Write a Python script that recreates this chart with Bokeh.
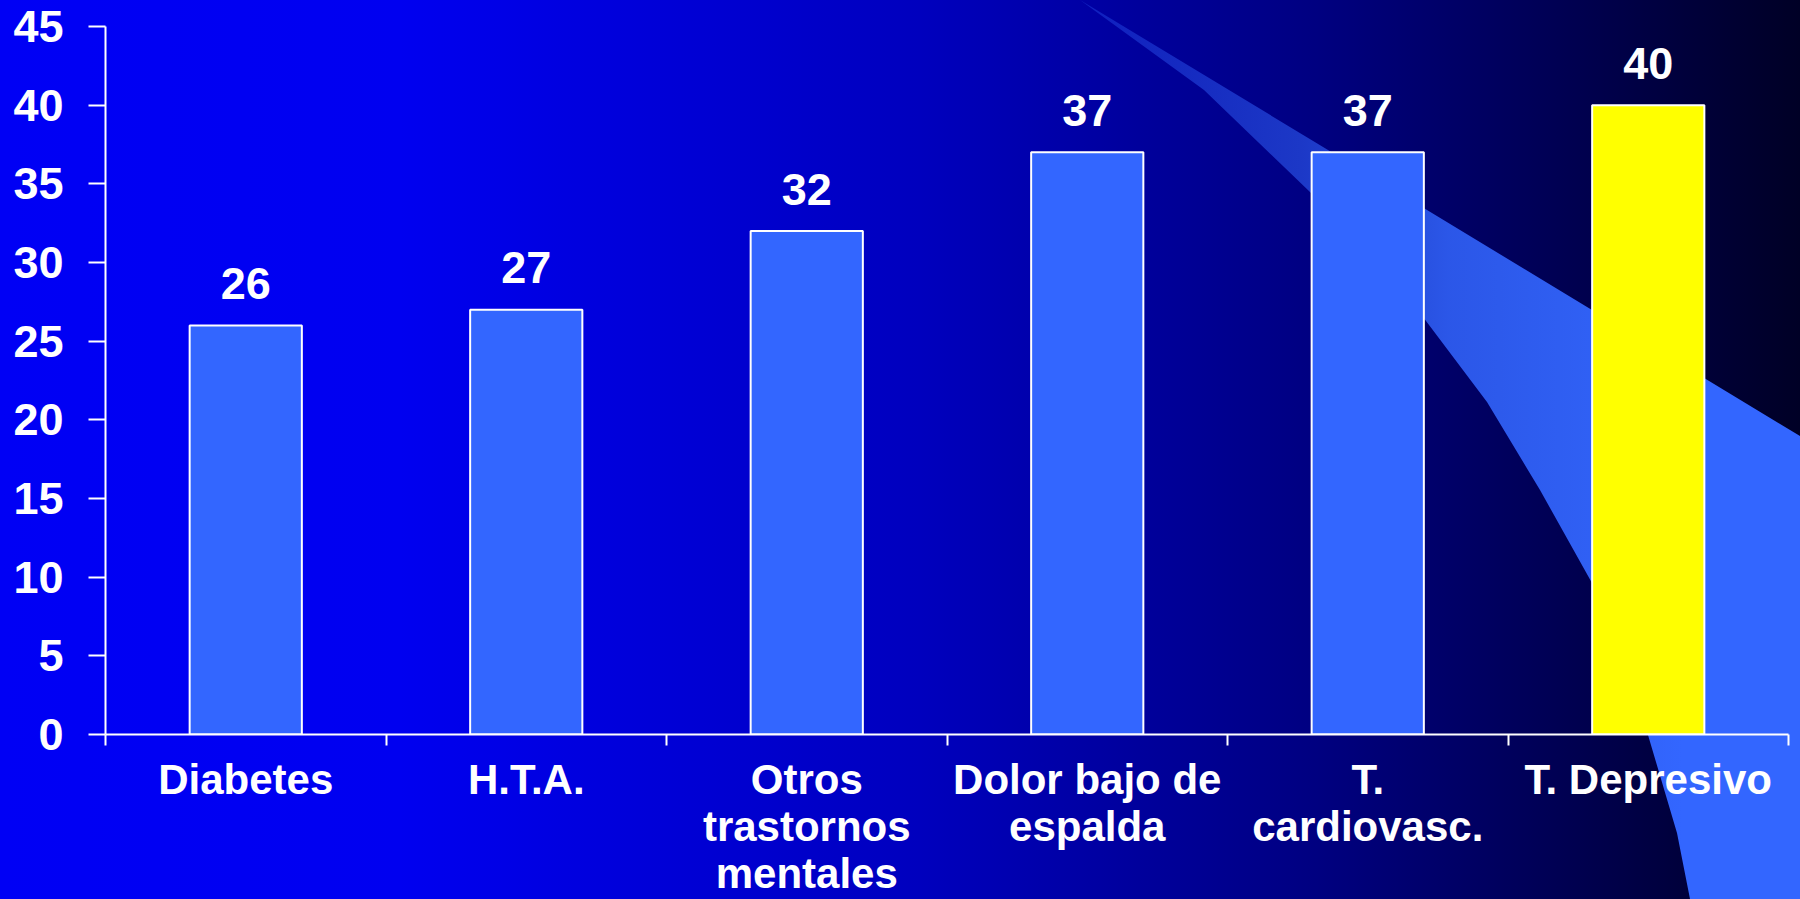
import urllib.parse
from bokeh.plotting import figure
from bokeh.models import Range1d, FixedTicker, ColumnDataSource
from bokeh.core.properties import value
from bokeh.embed import file_html
from bokeh.resources import INLINE

# ---- data ----
categories = ["Diabetes", "H.T.A.", "Otros\ntrastornos\nmentales",
              "Dolor bajo de\nespalda", "T.\ncardiovasc.", "T. Depresivo"]
values = [26, 27, 32, 37, 37, 40]
bar_colors = ["#3366FF", "#3366FF", "#3366FF", "#3366FF", "#3366FF", "#FFFF00"]
y_ticks = [0, 5, 10, 15, 20, 25, 30, 35, 40, 45]

centers = [i + 0.5 for i in range(len(categories))]
bounds = list(range(len(categories) + 1))

FONT = "Liberation Sans"

# ---- decorative background (slide template) ----
svg = (
    '<svg xmlns="http://www.w3.org/2000/svg" width="1800" height="899" viewBox="0 0 1800 899">'
    '<defs><linearGradient id="g" gradientUnits="userSpaceOnUse" x1="1080" y1="0" x2="1750" y2="0">'
    '<stop offset="0" stop-color="#3366FF" stop-opacity="0.3"/>'
    '<stop offset="0.33" stop-color="#3366FF" stop-opacity="0.55"/>'
    '<stop offset="0.55" stop-color="#3366FF" stop-opacity="0.85"/>'
    '<stop offset="0.9" stop-color="#3366FF" stop-opacity="1"/>'
    '</linearGradient></defs>'
    '<path d="M1080,0 L1333,153 L1592,310 L1800,436 L1800,899 L1690,899 L1677,833 '
    'L1648,735 L1620,655 L1592,583 L1540,490 L1487,402 L1423,317 L1310,192 L1204,90 Z" '
    'fill="url(#g)"/></svg>'
)
svg_url = "url(\"data:image/svg+xml;charset=utf-8," + urllib.parse.quote(svg) + "\")"
gradient = ("linear-gradient(to right, #0000F5 0px, #0000F0 400px, #0000BE 920px, "
            "#000080 1320px, #00002D 1760px, #000026 1800px)")

p = figure(width=1800, height=899, output_backend="svg", toolbar_location=None,
           x_range=Range1d(0, len(categories)), y_range=Range1d(0, 45),
           min_border_left=105, min_border_right=12, min_border_top=26, min_border_bottom=165)
p.styles = {"background-image": svg_url + ", " + gradient}
p.background_fill_color = None
p.border_fill_color = None
p.outline_line_color = None
p.xgrid.visible = False
p.ygrid.visible = False

src = ColumnDataSource(dict(x=centers, top=values, color=bar_colors,
                            label=[str(v) for v in values]))
p.vbar(x="x", top="top", width=0.4, source=src, fill_color="color",
       line_color="white", line_width=2)
p.text(x="x", y="top", text="label", source=src, text_align="center",
       text_baseline="alphabetic", y_offset=-42, text_color="white",
       text_font=value(FONT), text_font_style="bold", text_font_size="45px")

# y axis
ya = p.yaxis[0]
ya.ticker = FixedTicker(ticks=y_ticks)
ya.axis_line_color = "white"
ya.axis_line_width = 2
ya.major_tick_line_color = "white"
ya.major_tick_line_width = 2
ya.major_tick_out = 17
ya.major_tick_in = 0
ya.minor_tick_line_color = None
ya.major_label_standoff = 25
ya.major_label_text_color = "white"
ya.major_label_text_font = FONT
ya.major_label_text_font_style = "bold"
ya.major_label_text_font_size = "45px"

# x axis
xa = p.xaxis[0]
xa.ticker = FixedTicker(ticks=centers, minor_ticks=bounds)
xa.major_label_overrides = {c: lab for c, lab in zip(centers, categories)}
xa.axis_line_color = "white"
xa.axis_line_width = 2
xa.major_tick_line_color = None
xa.major_tick_out = 0
xa.major_tick_in = 0
xa.minor_tick_line_color = "white"
xa.minor_tick_line_width = 2
xa.minor_tick_out = 11
xa.minor_tick_in = 0
xa.major_label_standoff = 10
xa.major_label_text_color = "white"
xa.major_label_text_font = FONT
xa.major_label_text_font_style = "bold"
xa.major_label_text_font_size = "42px"
xa.major_label_text_line_height = 1.0

open("out.html", "w").write(file_html(p, INLINE))
